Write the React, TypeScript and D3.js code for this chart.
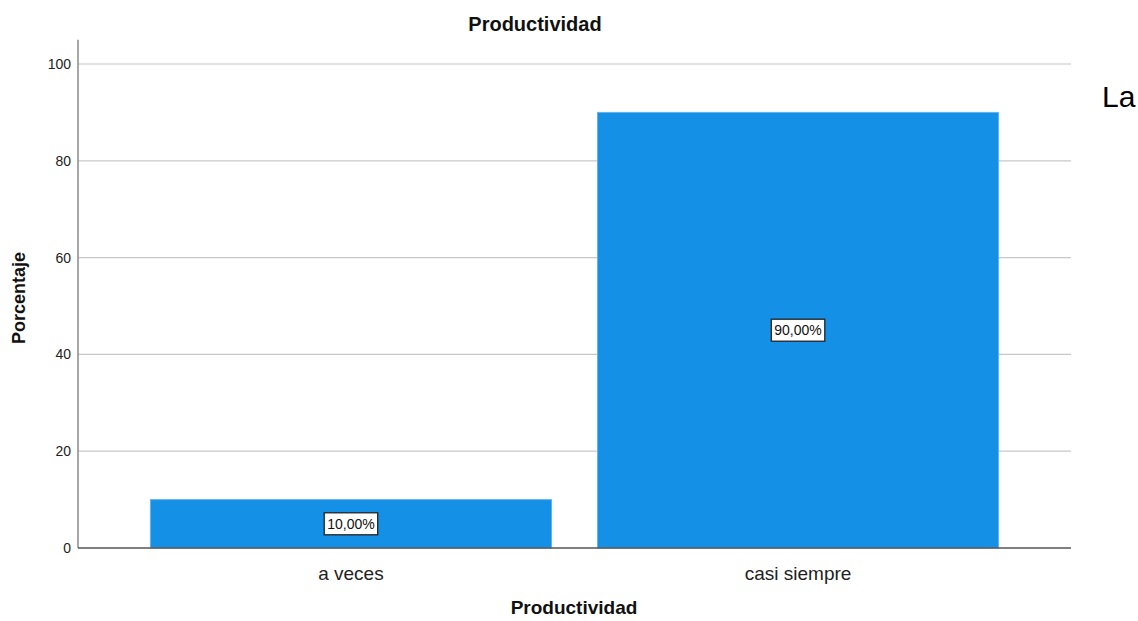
import React, { useEffect, useRef } from "react";
import * as d3 from "d3";

const categories = ["a veces", "casi siempre"];
const percentages = [10, 90];
const yTicks = [0, 20, 40, 60, 80, 100];
const chartTitle = "Productividad";
const xTitle = "Productividad";
const yTitle = "Porcentaje";
const sideText = "La";

const FONT = "'Liberation Sans', Arial, Helvetica, sans-serif";

export default function App() {
  const ref = useRef<SVGSVGElement>(null);

  useEffect(() => {
    const svg = d3.select(ref.current);
    svg.selectAll("*").remove();

    const left = 78, right = 1071, bottom = 548, top = 39.8;
    const x = d3.scaleBand<string>().domain(categories).range([left, right])
      .paddingInner(0.103).paddingOuter(0.162);
    const y = d3.scaleLinear().domain([0, 105]).range([bottom, top]);

    // gridlines
    svg.append("g").selectAll("line").data(yTicks.filter(t => t > 0)).join("line")
      .attr("x1", left).attr("x2", right)
      .attr("y1", d => y(d)).attr("y2", d => y(d))
      .attr("stroke", "#c8c8c8").attr("stroke-width", 1.2);

    // bars
    svg.append("g").selectAll("rect").data(percentages).join("rect")
      .attr("x", (_, i) => x(categories[i])!)
      .attr("width", x.bandwidth())
      .attr("y", d => y(d))
      .attr("height", d => y(0) - y(d))
      .attr("fill", "#1490e6")
      .attr("stroke", "#5fb4f0").attr("stroke-width", 1);

    // y axis line
    svg.append("line").attr("x1", left).attr("x2", left).attr("y1", top).attr("y2", bottom)
      .attr("stroke", "#8a8a8a").attr("stroke-width", 1.5);
    // x axis line
    svg.append("line").attr("x1", left).attr("x2", right).attr("y1", bottom).attr("y2", bottom)
      .attr("stroke", "#555").attr("stroke-width", 1.3);

    // y tick labels
    svg.append("g").selectAll("text").data(yTicks).join("text")
      .attr("x", 71).attr("y", d => y(d)).attr("dy", "0.36em")
      .attr("text-anchor", "end").attr("font-family", FONT).attr("font-size", 14)
      .attr("fill", "#222").text(d => String(d));

    // category labels
    svg.append("g").selectAll("text").data(categories).join("text")
      .attr("x", d => x(d)! + x.bandwidth() / 2).attr("y", 580)
      .attr("text-anchor", "middle").attr("font-family", FONT).attr("font-size", 19)
      .attr("fill", "#222").text(d => d);

    // value labels
    const lg = svg.append("g");
    percentages.forEach((v, i) => {
      const cx = x(categories[i])! + x.bandwidth() / 2;
      const cy = (y(v) + y(0)) / 2;
      const g = lg.append("g");
      const rect = g.append("rect");
      const t = g.append("text").attr("x", cx).attr("y", cy).attr("dy", "0.36em")
        .attr("text-anchor", "middle").attr("font-family", FONT).attr("font-size", 14)
        .attr("fill", "#111").text(d3.format(".2f")(v).replace(".", ",") + "%");
      const bb = (t.node() as SVGTextElement).getBBox();
      const w = bb.width + 6, h = 22;
      rect.attr("x", cx - w / 2).attr("y", cy - h / 2).attr("width", w).attr("height", h)
        .attr("fill", "#fff").attr("stroke", "#222").attr("stroke-width", 1.3);
    });

    // titles
    svg.append("text").attr("x", 535).attr("y", 31).attr("text-anchor", "middle")
      .attr("font-family", FONT).attr("font-size", 20).attr("font-weight", "bold")
      .attr("fill", "#111").text(chartTitle);
    svg.append("text").attr("x", 574).attr("y", 614).attr("text-anchor", "middle")
      .attr("font-family", FONT).attr("font-size", 19).attr("font-weight", "bold")
      .attr("fill", "#111").text(xTitle);
    svg.append("text").attr("transform", "translate(25,298) rotate(-90)")
      .attr("text-anchor", "middle")
      .attr("font-family", FONT).attr("font-size", 18).attr("font-weight", "bold")
      .attr("fill", "#111").text(yTitle);

    svg.append("text").attr("x", 1102).attr("y", 107)
      .attr("font-family", FONT).attr("font-size", 30)
      .attr("fill", "#000").text(sideText);
  }, []);

  return (
    <svg ref={ref} width={1138} height={621}
      style={{ position: "absolute", left: 0, top: 0, background: "#fff" }} />
  );
}
